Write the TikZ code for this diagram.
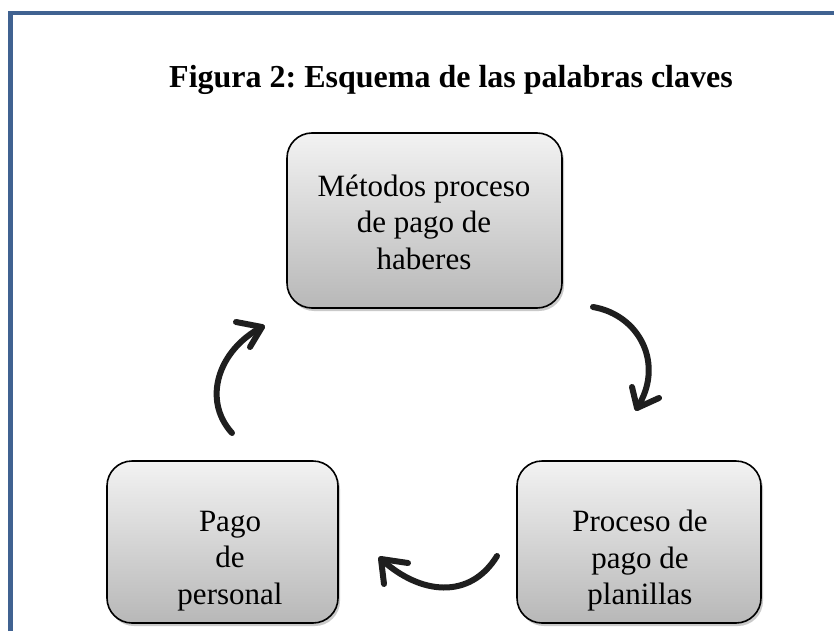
\documentclass[tikz,border=0pt]{standalone}
\usepackage{fontspec}
\setmainfont{Liberation Serif}
\usetikzlibrary{shadows}
\frenchspacing
\definecolor{frameblue}{RGB}{64,98,145}
\definecolor{arrowcol}{RGB}{30,30,30}
\tikzset{
  kbox/.style={draw=black, line width=1.6pt, rounded corners=25pt,
    top color=black!5, bottom color=black!28,
    drop shadow={shadow xshift=2pt, shadow yshift=-3pt, opacity=0.35, fill=black!60},
    inner sep=0pt},
  ktext/.style={align=center, font=\fontsize{31}{36.5}\selectfont, inner sep=0pt},
  brush/.style={draw=arrowcol, line width=6pt, line cap=round, line join=round},
}
\begin{document}
\begin{tikzpicture}[x=1pt, y=-1pt]
\useasboundingbox (0,0) rectangle (834,631);
% frame
\draw[frameblue, line width=4.5pt] (10.5,631) -- (10.5,13) -- (834,13);
% title
\node[anchor=base, font=\fontsize{32}{38}\selectfont\bfseries, inner sep=0pt] (title) at (451,88) {Figura 2: Esquema de las palabras claves};
% boxes
\node[kbox, minimum width=275pt, minimum height=175pt] (top) at (424.5,220.5) {};
\node[kbox, minimum width=231pt, minimum height=162pt] (left) at (222.5,542) {};
\node[kbox, minimum width=244pt, minimum height=162pt] (right) at (639,542) {};
% texts
\node[ktext] (ttop) at (424,222) {Métodos proceso\\de pago de\\haberes};
\node[ktext] (tleft) at (230,561) {Pago\\de\\personal};
\node[ktext] (tright) at (640,561) {Proceso de\\pago de\\planillas};
% arrows
\coordinate (a1s) at (232,433);
\coordinate (a1t) at (262,327);
\coordinate (a1b1) at (236,322);
\coordinate (a1b2) at (250,347);
\draw[brush] (a1s) .. controls (202,400) and (218,350) .. (a1t);
\draw[brush] (a1b1) -- (a1t) -- (a1b2);

\coordinate (a2s) at (593,307);
\coordinate (a2t) at (637,408);
\coordinate (a2b1) at (632,387);
\coordinate (a2b2) at (659,398);
\draw[brush] (a2s) .. controls (640,315) and (665,365) .. (a2t);
\draw[brush] (a2b1) -- (a2t) -- (a2b2);

\coordinate (a3s) at (497,556);
\coordinate (a3t) at (381,559);
\coordinate (a3b1) at (408,563);
\coordinate (a3b2) at (384,584);
\draw[brush] (a3s) .. controls (470,600) and (420,595) .. (a3t);
\draw[brush] (a3b1) -- (a3t) -- (a3b2);
\end{tikzpicture}
\end{document}
